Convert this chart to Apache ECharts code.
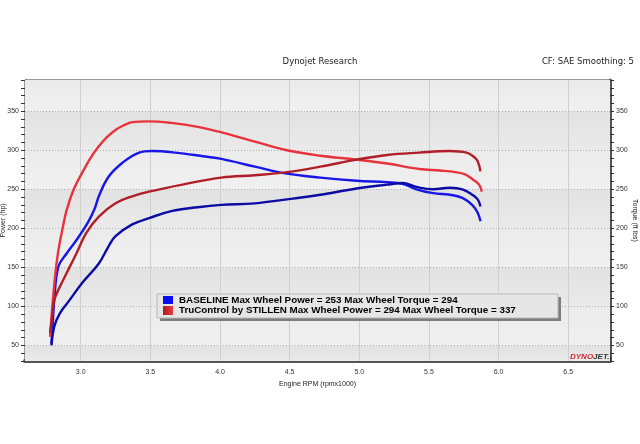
<!DOCTYPE html>
<html>
<head>
<meta charset="utf-8">
<script src="https://cdn.jsdelivr.net/npm/echarts@6/dist/echarts.min.js"></script>
<style>
html, body { margin: 0; padding: 0; background: #fff; }
#dyno { width: 640px; height: 444px; }
</style>
</head>
<body>
<div id="dyno"></div>
<script>
// tick labels
var rpmTicks = [3.0, 3.5, 4.0, 4.5, 5.0, 5.5, 6.0, 6.5];
var powerTicks = [50, 100, 150, 200, 250, 300, 350];
var torqueTicks = [50, 100, 150, 200, 250, 300, 350];

// BASELINE torque (ft lbs) [rpm x1000, value]
var baseTorque = [
	[2.79, 52], [2.80, 80], [2.81, 108], [2.84, 151], [2.90, 168], [2.97, 185],
	[3.05, 207], [3.10, 225], [3.13, 241], [3.20, 266], [3.30, 284], [3.42, 297],
	[3.51, 299], [3.68, 297], [3.89, 292], [4.01, 289], [4.25, 279], [4.48, 270],
	[4.72, 265], [4.98, 261], [5.20, 259], [5.31, 257], [5.41, 250], [5.53, 245],
	[5.65, 243], [5.74, 239], [5.81, 230], [5.85, 220], [5.87, 209]
];
// BASELINE power (hp)
var basePower = [
	[2.79, 50], [2.81, 74], [2.85, 91], [2.92, 108], [3.01, 130], [3.13, 155],
	[3.20, 177], [3.25, 190], [3.37, 205], [3.49, 213], [3.65, 222], [3.84, 227],
	[4.01, 230], [4.25, 232], [4.48, 237], [4.72, 243], [4.98, 251], [5.20, 256],
	[5.31, 258], [5.41, 253], [5.53, 250], [5.65, 252], [5.74, 250], [5.81, 243],
	[5.85, 237], [5.87, 228]
];
// TruControl by STILLEN torque
var stillenTorque = [
	[2.78, 61], [2.79, 85], [2.80, 108], [2.82, 145], [2.84, 172], [2.87, 200],
	[2.90, 224], [2.95, 250], [3.01, 271], [3.07, 290], [3.13, 305], [3.19, 317],
	[3.25, 326], [3.31, 332], [3.37, 336], [3.49, 337], [3.65, 335], [3.84, 330],
	[4.01, 323], [4.25, 311], [4.48, 300], [4.72, 293], [4.98, 288], [5.20, 283],
	[5.43, 276], [5.58, 274], [5.69, 272], [5.76, 269], [5.82, 262], [5.86, 256],
	[5.88, 247]
];
// TruControl by STILLEN power
var stillenPower = [
	[2.78, 66], [2.80, 95], [2.81, 108], [2.85, 125], [2.90, 143], [2.97, 168],
	[3.04, 194], [3.13, 215], [3.25, 232], [3.37, 241], [3.49, 247], [3.73, 256],
	[4.01, 265], [4.25, 268], [4.48, 272], [4.72, 279], [4.98, 288], [5.20, 294],
	[5.43, 297], [5.65, 299], [5.77, 297], [5.82, 292], [5.85, 286], [5.87, 273]
];

var legendLines = [
	'BASELINE Max Wheel Power = 253 Max Wheel Torque = 294',
	'TruControl by STILLEN Max Wheel Power = 294 Max Wheel Torque = 337'
];

var FONT = 'Liberation Sans';
var myChart = echarts.init(document.getElementById('dyno'));

// 背景条带
var bandEdges = [30].concat(powerTicks).concat([390]);
var bands = [];
for (var i = 0; i < bandEdges.length - 1; i++) {
	var dark = (i % 2 == 0);
	bands.push([{
		yAxis: bandEdges[i + 1],
		itemStyle: {
			color: new echarts.graphic.LinearGradient(0, 0, 0, 1, [
				{ offset: 0, color: dark ? '#e2e2e2' : '#ebebeb' },
				{ offset: 1, color: dark ? '#eaeaea' : '#f0f0f0' }
			])
		}
	}, { yAxis: bandEdges[i] }]);
}

var gridLines = [];
for (var i = 0; i < rpmTicks.length; i++) {
	gridLines.push({ xAxis: rpmTicks[i], lineStyle: { color: '#cfcfcf', type: 'solid', width: 1 } });
}
for (var i = 0; i < powerTicks.length; i++) {
	gridLines.push({ yAxis: powerTicks[i], lineStyle: { color: '#b0b0b0', type: [1, 2], width: 1 } });
}

function lineSeries(name, data, color, axis) {
	return {
		name: name,
		type: 'line',
		yAxisIndex: axis,
		data: data,
		smooth: 0.4,
		showSymbol: false,
		z: 5,
		lineStyle: { color: color, width: 2.4 }
	};
}

var option = {
	animation: false,
	grid: {
		left: 25, right: 30, top: 80, bottom: 83,
		outerBoundsMode: 'none',
		containLabel: false,
		show: true,
		backgroundColor: '#e8e8e8',
		borderColor: '#333',
		borderWidth: 1
	},
	xAxis: {
		type: 'value',
		min: 2.6, max: 6.8, interval: 0.1,
		name: 'Engine RPM (rpmx1000)',
		nameLocation: 'middle',
		nameGap: 20,
		nameMoveOverlap: false,
		nameTextStyle: { fontSize: 7, color: '#222', fontFamily: FONT },
		axisLine: { lineStyle: { color: '#555', width: 4 } },
		axisTick: { inside: true, length: 5, lineStyle: { color: '#333' } },
		axisLabel: {
			fontSize: 7, color: '#333', fontFamily: FONT, margin: 8,
			formatter: function(v) {
				return Math.abs(v * 2 - Math.round(v * 2)) < 1e-6 ? v.toFixed(1) : '';
			}
		},
		splitLine: { show: false }
	},
	yAxis: [{
		type: 'value',
		position: 'left',
		min: 30, max: 390, interval: 10,
		name: 'Power (hp)',
		nameLocation: 'middle',
		nameRotate: 90,
		nameGap: 18,
		nameMoveOverlap: false,
		nameTextStyle: { fontSize: 7, color: '#222', fontFamily: FONT },
		axisLine: { show: true, lineStyle: { color: '#333', width: 1 } },
		axisTick: { show: true, length: 4, lineStyle: { color: '#333' } },
		axisLabel: {
			fontSize: 7, color: '#333', fontFamily: FONT, margin: 6,
			formatter: function(v) { return powerTicks.indexOf(v) != -1 ? v : ''; }
		},
		splitLine: { show: false }
	}, {
		type: 'value',
		position: 'right',
		min: 30, max: 390, interval: 10,
		name: 'Torque (ft lbs)',
		nameLocation: 'middle',
		nameRotate: -90,
		nameGap: 21,
		nameMoveOverlap: false,
		nameTextStyle: { fontSize: 7, color: '#222', fontFamily: FONT },
		axisLine: { show: true, lineStyle: { color: '#555', width: 3 } },
		axisTick: { show: true, length: 4, lineStyle: { color: '#333' } },
		axisLabel: {
			fontSize: 7, color: '#333', fontFamily: FONT, margin: 6,
			formatter: function(v) { return torqueTicks.indexOf(v) != -1 ? v : ''; }
		},
		splitLine: { show: false }
	}],
	series: [{
		type: 'line',
		data: [],
		z: 1,
		silent: true,
		markArea: { silent: true, data: bands },
		markLine: { silent: true, symbol: 'none', label: { show: false }, data: gridLines }
	},
		lineSeries('BASELINE Torque', baseTorque, '#1616e6', 1),
		lineSeries('BASELINE Power', basePower, '#0c0ca4', 0),
		lineSeries('TruControl Torque', stillenTorque, '#e8323c', 1),
		lineSeries('TruControl Power', stillenPower, '#b01e28', 0)
	],
	graphic: [
		{ type: 'text', left: 'center', top: 57, style: { text: 'Dynojet Research', font: '8.5px DejaVu Sans', fill: '#222' } },
		{ type: 'text', right: 6, top: 57, style: { text: 'CF: SAE Smoothing: 5', font: '8.5px DejaVu Sans', fill: '#222' } },
		// 图例框
		{ type: 'rect', shape: { x: 160, y: 297, width: 401, height: 24 }, style: { fill: '#7c7c7c' }, z: 10 },
		{ type: 'rect', shape: { x: 157, y: 294, width: 401, height: 24 }, style: { fill: '#e6e6e6', stroke: '#b8b8b8', lineWidth: 1 }, z: 11 },
		{ type: 'rect', shape: { x: 163, y: 296, width: 10, height: 8 }, style: { fill: '#0a0af0' }, z: 12 },
		{ type: 'rect', shape: { x: 163, y: 306, width: 10, height: 9 }, style: {
			fill: new echarts.graphic.LinearGradient(0, 0, 1, 0, [
				{ offset: 0, color: '#a81c24' }, { offset: 1, color: '#ee3a42' }
			]) }, z: 12 },
		{ type: 'text', x: 179, y: 300, style: { text: legendLines[0], font: 'bold 9.8px ' + FONT, fill: '#000', verticalAlign: 'middle' }, z: 12 },
		{ type: 'text', x: 179, y: 310.5, style: { text: legendLines[1], font: 'bold 9.8px ' + FONT, fill: '#000', verticalAlign: 'middle' }, z: 12 },
		// logo
		{ type: 'text', x: 570, y: 357, z: 12, style: {
			text: '{a|DYNO}{b|JET.}', verticalAlign: 'middle',
			rich: {
				a: { font: 'italic bold 8px ' + FONT, fill: '#d8262e' },
				b: { font: 'italic bold 8px ' + FONT, fill: '#333' }
			}
		} }
	]
};

if (option && typeof option === "object") {
	myChart.setOption(option, true);
}
</script>
</body>
</html>
